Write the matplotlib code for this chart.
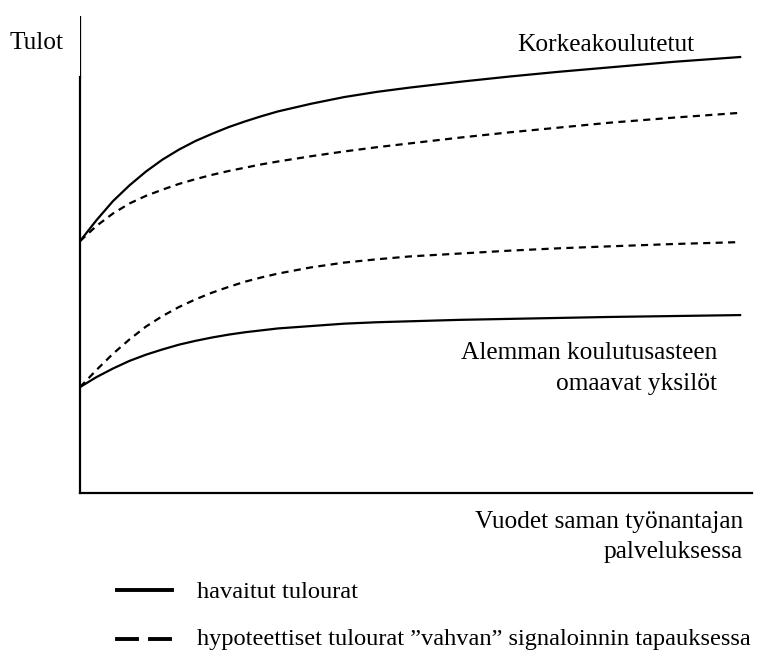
import matplotlib
matplotlib.use("Agg")
import matplotlib.pyplot as plt
from matplotlib.lines import Line2D

# Data (years of service vs. income, arbitrary units)
years = [0, 0.5, 1, 1.5, 2, 2.5, 3, 3.5, 4, 4.5, 5, 5.5, 6, 7, 8, 9, 10, 11.5, 13, 14.5, 16, 18, 20]
high_observed = [52.8, 57.2, 61.2, 64.5, 67.4, 69.9, 72.0, 73.8, 75.3, 76.7, 77.9, 79.0, 80.0,
                 81.6, 83.0, 84.1, 85.0, 86.2, 87.3, 88.3, 89.2, 90.4, 91.4]
high_hypothetical = [52.8, 56.0, 58.6, 60.7, 62.3, 63.6, 64.8, 65.8, 66.7, 67.5, 68.2, 68.9, 69.5,
                     70.6, 71.6, 72.5, 73.3, 74.5, 75.6, 76.6, 77.6, 78.7, 79.7]
low_hypothetical = [22.2, 25.8, 29.2, 32.2, 34.9, 37.1, 39.0, 40.6, 42.0, 43.2, 44.3, 45.2, 46.0,
                    47.3, 48.3, 49.0, 49.6, 50.2, 50.8, 51.3, 51.7, 52.2, 52.6]
low_observed = [22.2, 24.3, 26.1, 27.7, 29.0, 30.1, 31.1, 31.9, 32.6, 33.2, 33.7, 34.1, 34.5,
                35.0, 35.5, 35.8, 36.0, 36.3, 36.5, 36.7, 36.9, 37.1, 37.3]

W, H = 772, 655
fig = plt.figure(figsize=(W / 100, H / 100), dpi=100)
serif = ["Liberation Serif", "DejaVu Serif"]
FS = 18.3
FS_LEG = 17.6

def fx(px):
    return px / W

def fy(py):
    return 1 - py / H

ax = fig.add_axes([fx(80), fy(493), fx(752) - fx(80), fy(16) - fy(493)])
ax.set_xlim(0, 20.36)
ax.set_ylim(0, 100)
for s in ["top", "right"]:
    ax.spines[s].set_visible(False)
ax.spines["left"].set_linewidth(1.6)
ax.spines["left"].set_bounds(0, 87.2)
ax.spines["bottom"].set_linewidth(1.6)
ax.axvline(0, ymin=0.872, ymax=1.0, color="black", lw=0.9)
ax.set_xticks([])
ax.set_yticks([])

dash = (0, (3.2, 2.4))
ax.plot(years, high_observed, color="black", lw=1.6, solid_joinstyle="round")
ax.plot(years, high_hypothetical, color="black", lw=1.6, linestyle=dash)
ax.plot(years, low_hypothetical, color="black", lw=1.6, linestyle=dash)
ax.plot(years, low_observed, color="black", lw=1.6, solid_joinstyle="round")

fig.text(fx(10), fy(43), "Tulot", family=serif, fontsize=FS, va="center", ha="left")
fig.text(fx(517), fy(45), "Korkeakoulutetut", family=serif, fontsize=FS, va="center", ha="left")
fig.text(fx(717), fy(353), "Alemman koulutusasteen", family=serif, fontsize=FS, va="center", ha="right")
fig.text(fx(717), fy(384), "omaavat yksilöt", family=serif, fontsize=FS, va="center", ha="right")
fig.text(fx(743), fy(522), "Vuodet saman työnantajan", family=serif, fontsize=FS, va="center", ha="right")
fig.text(fx(743), fy(552), "palveluksessa", family=serif, fontsize=FS, va="center", ha="right")

# Legend
fig.lines.append(Line2D([fx(117), fx(172)], [fy(590), fy(590)], transform=fig.transFigure,
                        color="black", lw=2.8))
fig.lines.append(Line2D([fx(117), fx(137)], [fy(639), fy(639)], transform=fig.transFigure,
                        color="black", lw=2.8))
fig.lines.append(Line2D([fx(150), fx(170)], [fy(639), fy(639)], transform=fig.transFigure,
                        color="black", lw=2.8))
fig.text(fx(197), fy(592), "havaitut tulourat", family=serif, fontsize=FS_LEG, va="center", ha="left")
fig.text(fx(197), fy(640), "hypoteettiset tulourat \u201dvahvan\u201d signaloinnin tapauksessa",
         family=serif, fontsize=FS_LEG, va="center", ha="left")

fig.savefig("out.png", dpi=100, facecolor="white")
